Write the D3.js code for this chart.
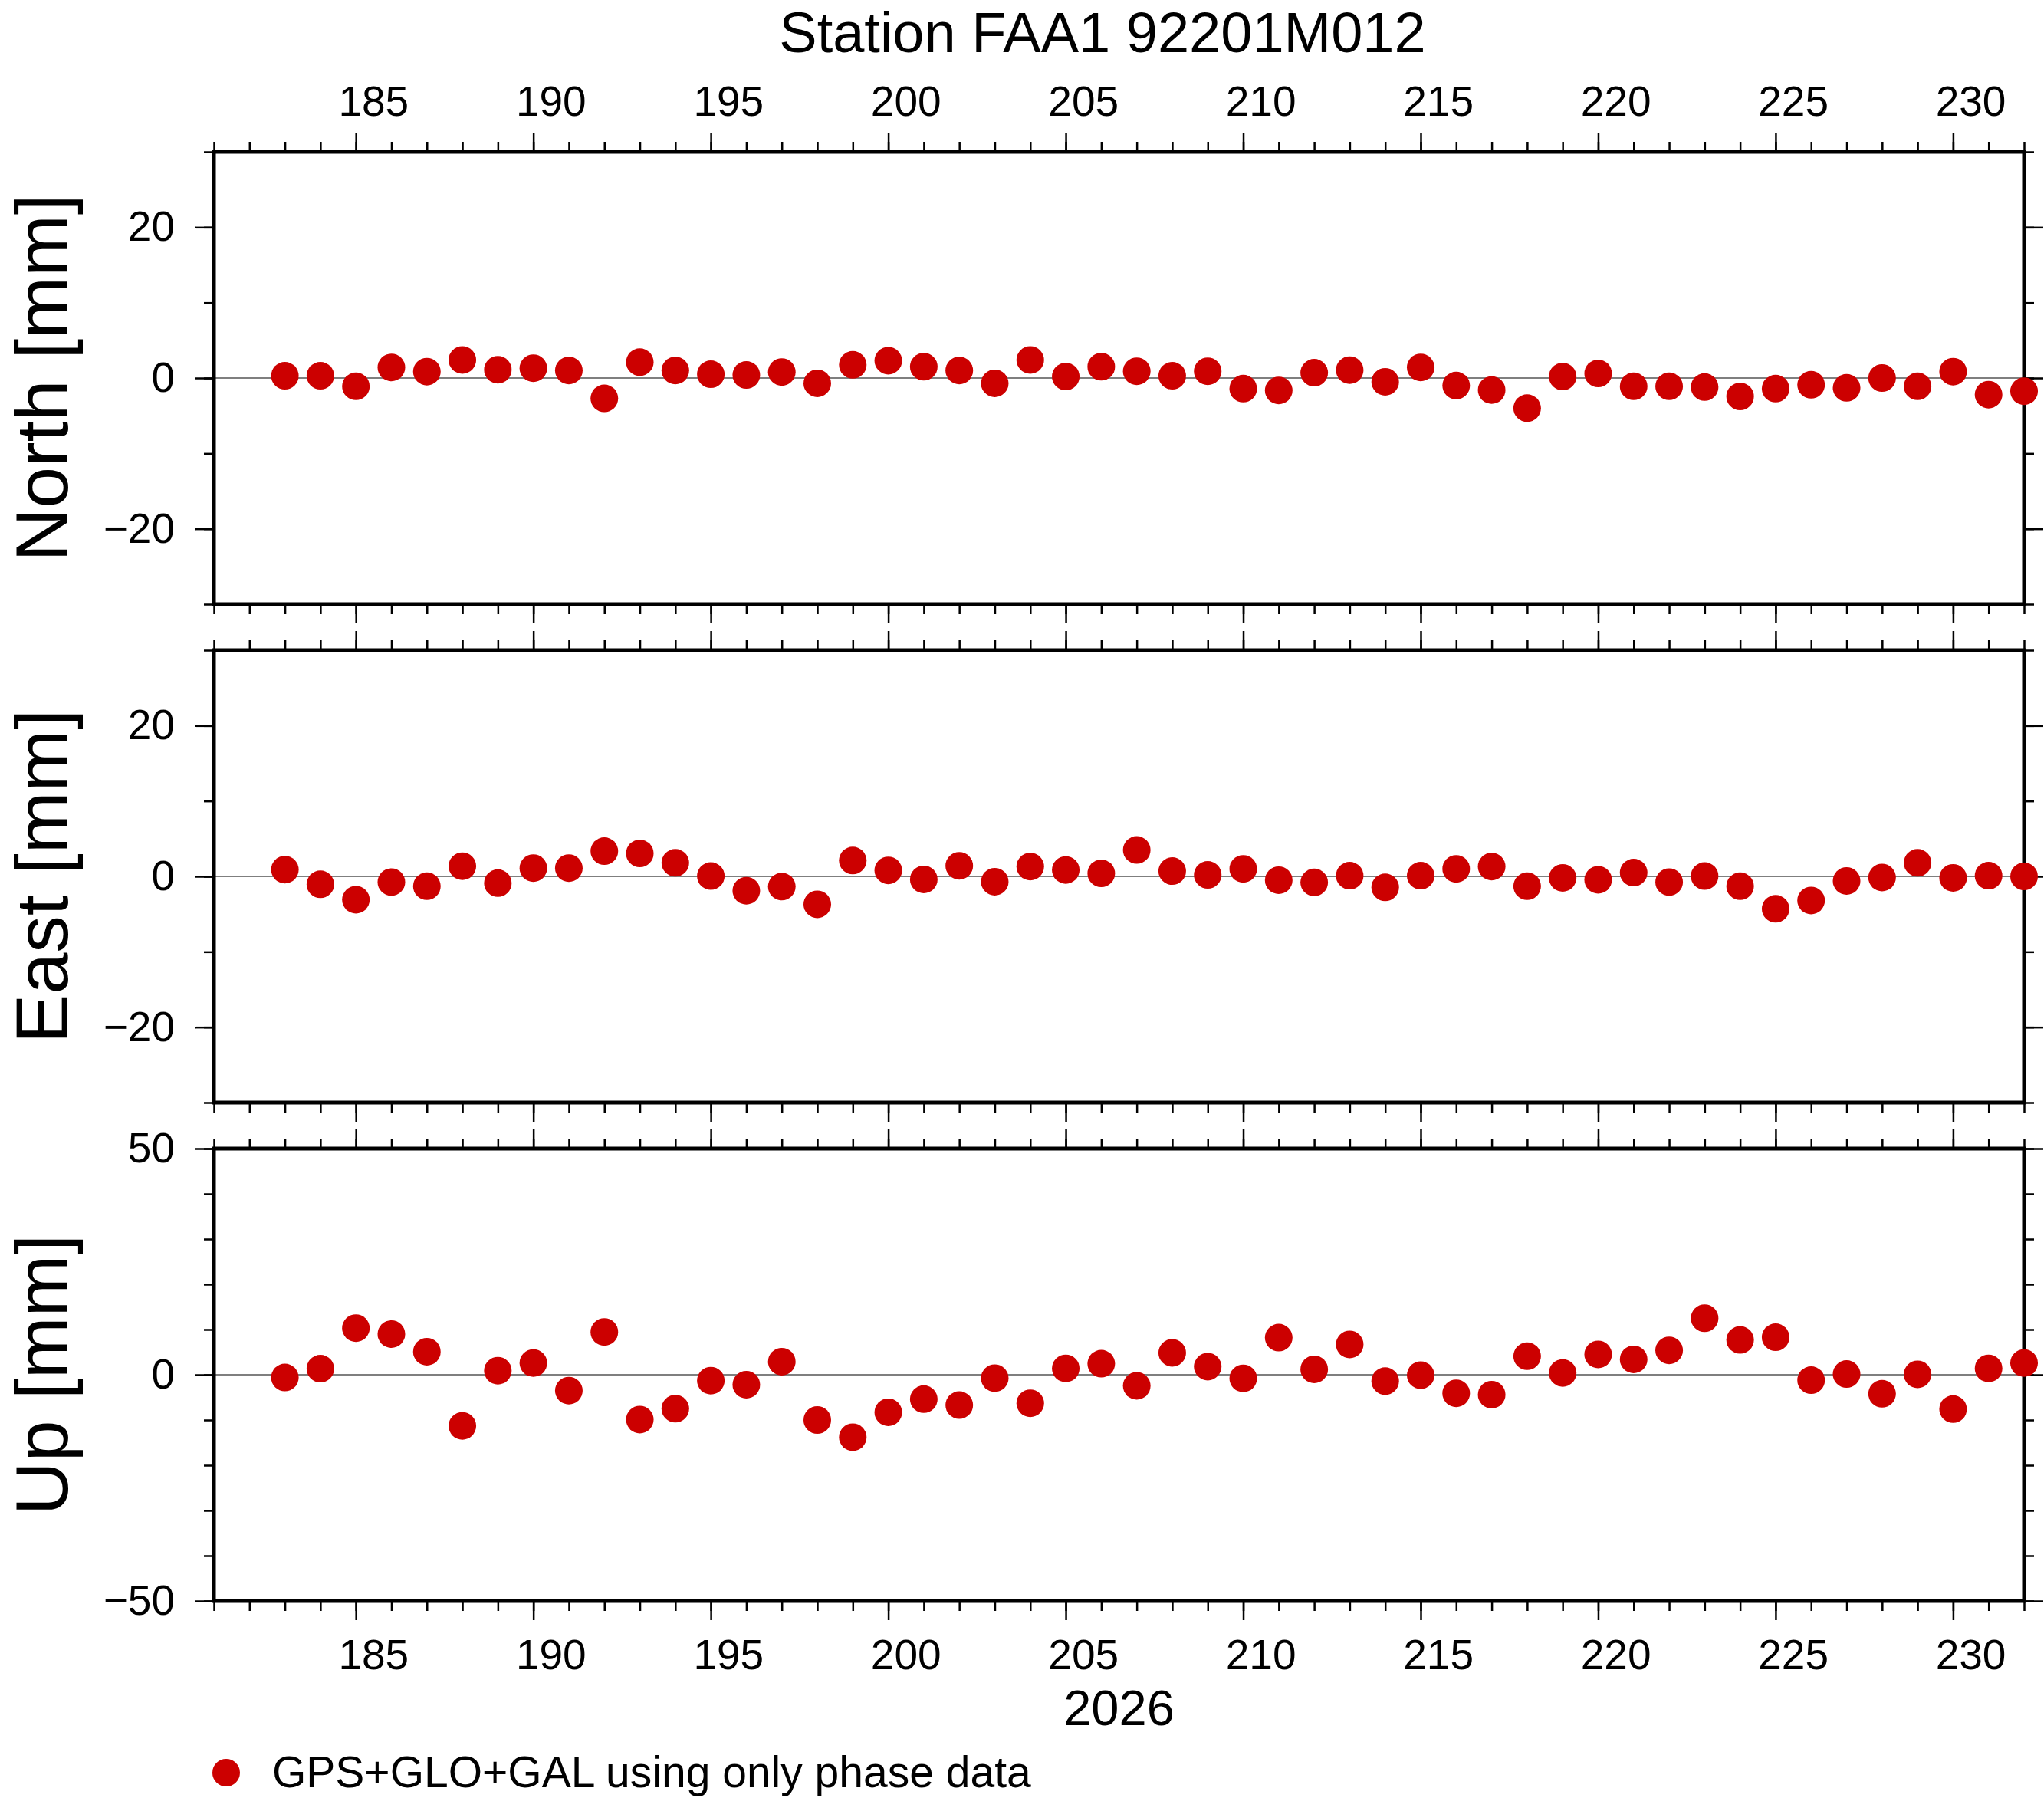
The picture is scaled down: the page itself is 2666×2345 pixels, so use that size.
<!DOCTYPE html>
<html>
<head>
<meta charset="utf-8">
<script src="https://cdn.jsdelivr.net/npm/d3@7"></script>
<style>
  body { margin: 0; background: #fff; }
  svg { display: block; font-family: "Liberation Sans", Arial, Helvetica, sans-serif; }
</style>
</head>
<body>
<svg id="chart"></svg>
<script>
// day of year 2026
const days = [183, 184, 185, 186, 187, 188, 189, 190, 191, 192, 193, 194, 195, 196, 197, 198, 199,
  200, 201, 202, 203, 204, 205, 206, 207, 208, 209, 210, 211, 212, 213, 214, 215, 216, 217, 218,
  219, 220, 221, 222, 223, 224, 225, 226, 227, 228, 229, 230, 231, 232];

// residuals in mm
const north = [0.3, 0.3, -1.1, 1.4, 0.85, 2.4, 1.1, 1.3, 1.0, -2.7, 2.1, 1.0, 0.5, 0.4, 0.8, -0.7,
  1.75, 2.3, 1.5, 1.0, -0.7, 2.4, 0.2, 1.5, 0.9, 0.3, 0.9, -1.4, -1.65, 0.7, 1.05, -0.5, 1.4, -1.0,
  -1.6, -4.0, 0.2, 0.6, -1.1, -1.1, -1.2, -2.45, -1.4, -0.9, -1.3, 0.0, -1.1, 0.85, -2.2, -1.75];
const east = [0.9, -1.05, -3.1, -0.75, -1.3, 1.35, -0.9, 1.1, 1.1, 3.35, 3.05, 1.8, 0.05, -1.9,
  -1.35, -3.7, 2.1, 0.8, -0.4, 1.4, -0.7, 1.3, 0.85, 0.4, 3.5, 0.7, 0.2, 1.0, -0.5, -0.8, 0.1,
  -1.45, 0.1, 1.0, 1.3, -1.3, -0.2, -0.45, 0.5, -0.75, 0.05, -1.3, -4.3, -3.2, -0.6, -0.15, 1.8,
  -0.2, 0.1, 0.0];
const up = [-0.6, 1.35, 10.3, 9.0, 5.1, -11.3, 0.9, 2.6, -3.5, 9.45, -9.9, -7.5, -1.3, -2.2, 2.9,
  -10.0, -13.8, -8.3, -5.4, -6.7, -0.75, -6.3, 1.4, 2.45, -2.45, 4.85, 1.8, -0.8, 8.2, 1.2, 6.7,
  -1.4, -0.1, -4.1, -4.4, 4.1, 0.4, 4.5, 3.4, 5.4, 12.5, 7.7, 8.3, -1.2, 0.15, -4.2, 0.1, -7.6,
  1.4, 2.6];

// axis ticks
const dayMinorTicks = d3.range(181, 233);
const dayMajorTicks = [185, 190, 195, 200, 205, 210, 215, 220, 225, 230];
const horMinorTicks = [-30, -20, -10, 0, 10, 20, 30];
const horMajorTicks = [-20, 0, 20];
const upMinorTicks = [-50, -40, -30, -20, -10, 0, 10, 20, 30, 40, 50];
const upMajorTicks = [-50, 0, 50];

const title = "Station FAA1 92201M012";
const yearLabel = "2026";
const legendLabel = "GPS+GLO+GAL using only phase data";

const width = 2666, height = 2345;
const left = 279, right = 2640;
const panelH = 590;
const dotR = 18;
const red = "#cc0000";
const font = 55;

const svg = d3.select("#chart").attr("width", width).attr("height", height);

const x = d3.scaleLinear().domain([181, 232]).range([left, right]);

const panels = [
  { label: "North [mm]", values: north, domain: [-30, 30], minor: horMinorTicks, major: horMajorTicks, top: 198 },
  { label: "East [mm]", values: east, domain: [-30, 30], minor: horMinorTicks, major: horMajorTicks, top: 848 },
  { label: "Up [mm]", values: up, domain: [-50, 50], minor: upMinorTicks, major: upMajorTicks, top: 1498 }
];

function styleAxis(g, withText) {
  g.select(".domain").remove();
  g.selectAll(".tick line").attr("stroke", "#000").attr("stroke-width", 2.5);
  if (withText) {
    g.selectAll(".tick text")
      .attr("fill", "#000")
      .attr("font-size", font)
      .attr("font-family", "Liberation Sans, Arial, Helvetica, sans-serif");
  } else {
    g.selectAll(".tick text").remove();
  }
}

panels.forEach((p, i) => {
  const bottom = p.top + panelH;
  const y = d3.scaleLinear().domain(p.domain).range([bottom, p.top]);
  const g = svg.append("g").attr("class", "panel");

  // x ticks, top and bottom, outward
  [[d3.axisTop, p.top], [d3.axisBottom, bottom]].forEach(([ax, pos]) => {
    g.append("g").attr("transform", `translate(0,${pos})`)
      .call(ax(x).tickValues(dayMinorTicks).tickSize(13).tickFormat(""))
      .call(s => styleAxis(s, false));
    g.append("g").attr("transform", `translate(0,${pos})`)
      .call(ax(x).tickValues(dayMajorTicks).tickSize(25).tickFormat(""))
      .call(s => styleAxis(s, false));
  });

  // y ticks left and right
  g.append("g").attr("transform", `translate(${left},0)`)
    .call(d3.axisLeft(y).tickValues(p.minor).tickSize(13).tickFormat(""))
    .call(s => styleAxis(s, false));
  g.append("g").attr("transform", `translate(${left},0)`)
    .call(d3.axisLeft(y).tickValues(p.major).tickSize(25).tickPadding(26).tickFormat(d3.format("d")))
    .call(s => styleAxis(s, true));
  g.append("g").attr("transform", `translate(${right},0)`)
    .call(d3.axisRight(y).tickValues(p.minor).tickSize(13).tickFormat(""))
    .call(s => styleAxis(s, false));
  g.append("g").attr("transform", `translate(${right},0)`)
    .call(d3.axisRight(y).tickValues(p.major).tickSize(25).tickFormat(""))
    .call(s => styleAxis(s, false));

  // zero line
  g.append("line")
    .attr("x1", left).attr("x2", right)
    .attr("y1", y(0)).attr("y2", y(0))
    .attr("stroke", "#000").attr("stroke-width", 1.2);

  // frame
  g.append("rect")
    .attr("x", left).attr("y", p.top)
    .attr("width", right - left).attr("height", panelH)
    .attr("fill", "none").attr("stroke", "#000").attr("stroke-width", 5);

  // points
  g.selectAll("circle.pt")
    .data(days.map((d, k) => ({ day: d, v: p.values[k] })))
    .enter().append("circle")
    .attr("class", "pt")
    .attr("cx", d => x(d.day))
    .attr("cy", d => y(d.v))
    .attr("r", dotR)
    .attr("fill", red);

  // y title
  svg.append("text")
    .attr("transform", `translate(88,${(p.top + bottom) / 2}) rotate(-90)`)
    .attr("text-anchor", "middle")
    .attr("font-size", 97)
    .text(p.label);

  // day labels, centred in the day interval
  if (i === 0) {
    svg.append("g").selectAll("text")
      .data(dayMajorTicks).enter().append("text")
      .attr("x", d => x(d + 0.5))
      .attr("y", 151)
      .attr("text-anchor", "middle")
      .attr("font-size", font)
      .text(d => d);
  }
  if (i === panels.length - 1) {
    svg.append("g").selectAll("text")
      .data(dayMajorTicks).enter().append("text")
      .attr("x", d => x(d + 0.5))
      .attr("y", 2177)
      .attr("text-anchor", "middle")
      .attr("font-size", font)
      .text(d => d);
  }
});

// title
svg.append("text")
  .attr("x", 1438).attr("y", 68)
  .attr("text-anchor", "middle")
  .attr("font-size", 74)
  .text(title);

// year
svg.append("text")
  .attr("x", (left + right) / 2).attr("y", 2250)
  .attr("text-anchor", "middle")
  .attr("font-size", 65)
  .text(yearLabel);

// legend
const legend = svg.append("g").attr("class", "legend");
legend.append("circle")
  .attr("cx", 295).attr("cy", 2312).attr("r", dotR)
  .attr("fill", red);
legend.append("text")
  .attr("x", 355).attr("y", 2331)
  .attr("font-size", 57)
  .text(legendLabel);
</script>
</body>
</html>
